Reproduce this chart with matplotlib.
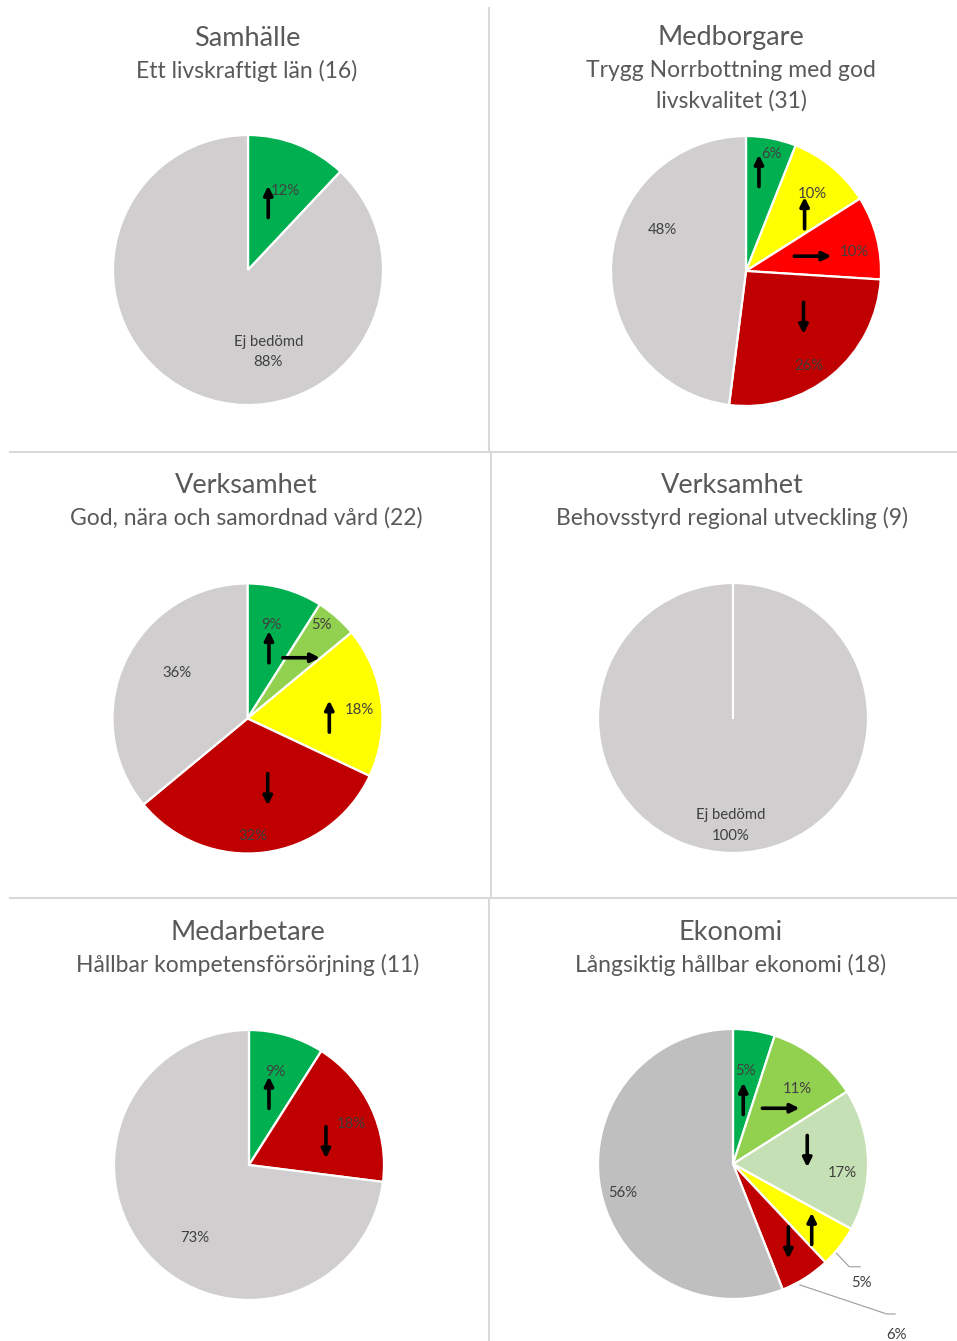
import matplotlib
matplotlib.use("Agg")
import matplotlib.pyplot as plt
from matplotlib.lines import Line2D

plt.rcParams['font.family'] = ['Lato', 'DejaVu Sans']

# ---------------- DATA ----------------
titles = ["Samhälle", "Medborgare", "Verksamhet", "Verksamhet", "Medarbetare", "Ekonomi"]
subtitles = ["Ett livskraftigt län (16)",
             "Trygg Norrbottning med god\nlivskvalitet (31)",
             "God, nära och samordnad vård (22)",
             "Behovsstyrd regional utveckling (9)",
             "Hållbar kompetensförsörjning (11)",
             "Långsiktig hållbar ekonomi (18)"]

samhalle_values = [12, 88]
medborgare_values = [6, 10, 10, 26, 48]
vard_values = [9, 5, 18, 32, 36]
utveckling_values = [100]
medarbetare_values = [9, 18, 73]
ekonomi_values = [5, 11, 17, 5, 6, 56]

# status category of each slice
samhalle_status = ["green", "grey"]
medborgare_status = ["green", "yellow", "red", "darkred", "grey"]
vard_status = ["green", "lightgreen", "yellow", "darkred", "grey"]
utveckling_status = ["grey"]
medarbetare_status = ["green", "darkred", "grey"]
ekonomi_status = ["green", "lightgreen", "palegreen", "yellow", "darkred", "grey2"]

# trend arrow of each slice
samhalle_trend = ["up", None]
medborgare_trend = ["up", "up", "right", "down", None]
vard_trend = ["up", "right", "up", "down", None]
utveckling_trend = [None]
medarbetare_trend = ["up", "down", None]
ekonomi_trend = ["up", "right", "down", "up", "down", None]

# label prefix for the "not assessed" slice when named
samhalle_names = ["", "Ej bedömd"]
utveckling_names = ["Ej bedömd"]

# ---------------- STYLE / LAYOUT ----------------
COLORS = {"green": "#00B050", "lightgreen": "#92D050", "palegreen": "#C5E0B4",
          "yellow": "#FFFF00", "red": "#FF0000", "darkred": "#C00000",
          "grey": "#D0CECE", "grey2": "#BFBFBF"}
W, H = 957, 1341
R = 135

# pie centres (px) and title positions (px)
centers = [(248, 270), (746, 271), (247.5, 718.5), (733, 718), (249, 1165), (733, 1164)]
title_y = [39, 38, 486, 486, 932, 932]
title_x = [247, 731, 246, 732, 248, 731]
sub_y = [71, 86, 518, 518, 965, 965]

# label offsets (pie-radius units) per slice
label_pos = [
    [(0.274, 0.587), (0.15, -0.607)],
    [(0.19, 0.865), (0.495, 0.571), (0.80, 0.142), (0.466, -0.704), (-0.62, 0.30)],
    [(0.179, 0.693), (0.55, 0.693), (0.828, 0.063), (0.043, -0.868), (-0.52, 0.335)],
    [(-0.015, -0.796)],
    [(0.193, 0.691), (0.76, 0.304), (-0.40, -0.543)],
    [(0.096, 0.691), (0.476, 0.553), (0.81, -0.064), (0.953, -0.884), (1.213, -1.267), (-0.815, -0.213)],
]
# arrow centres (pie-radius units) per slice
arrow_pos = [
    [(0.15, 0.506), None],
    [(0.096, 0.743), (0.434, 0.43), (0.495, 0.11), (0.426, -0.349), None],
    [(0.159, 0.53), (0.399, 0.45), (0.606, 0.016), (0.15, -0.526), None],
    [None],
    [(0.148, 0.537), (0.57, 0.167), None],
    [(0.076, 0.484), (0.355, 0.413), (0.55, 0.094), (0.583, -0.479), (0.41, -0.584), None],
]
# leader lines (Ekonomi small slices)
leaders = {5: [[(0.766, -0.661), (0.861, -0.761), (0.941, -0.761)],
               [(0.496, -0.896), (1.139, -1.111), (1.2, -1.111)]]}

values_all = [samhalle_values, medborgare_values, vard_values, utveckling_values,
              medarbetare_values, ekonomi_values]
status_all = [samhalle_status, medborgare_status, vard_status, utveckling_status,
              medarbetare_status, ekonomi_status]
trend_all = [samhalle_trend, medborgare_trend, vard_trend, utveckling_trend,
             medarbetare_trend, ekonomi_trend]
names_all = [samhalle_names, None, None, utveckling_names, None, None]

TITLE_C = "#595959"
LABEL_C = "#404040"

fig = plt.figure(figsize=(W / 100, H / 100), dpi=100)
fig.patch.set_facecolor("white")

# separator lines
sep_c = "#D9D9D9"
fig.add_artist(Line2D([10 / W, 1], [1 - 452 / H, 1 - 452 / H], color=sep_c, lw=1.5))
fig.add_artist(Line2D([10 / W, 1], [1 - 898 / H, 1 - 898 / H], color=sep_c, lw=1.5))
fig.add_artist(Line2D([489 / W, 489 / W], [1 - 8 / H, 1 - 451 / H], color=sep_c, lw=1.5))
fig.add_artist(Line2D([491 / W, 491 / W], [1 - 453 / H, 1 - 897 / H], color=sep_c, lw=1.5))
fig.add_artist(Line2D([489 / W, 489 / W], [1 - 899 / H, 0], color=sep_c, lw=1.5))

ARROW_V = 0.235
ARROW_H = 0.275
dirs = {"up": (0, 1), "down": (0, -1), "right": (1, 0)}

for i in range(6):
    cx, cy = centers[i]
    ax = fig.add_axes([(cx - R) / W, 1 - (cy + R) / H, 2 * R / W, 2 * R / H])
    vals = values_all[i]
    cols = [COLORS[s] for s in status_all[i]]
    ax.pie(vals, colors=cols, startangle=90, counterclock=False, radius=1,
           wedgeprops=dict(edgecolor="white", linewidth=1.6))
    ax.set_xlim(-1, 1)
    ax.set_ylim(-1, 1)
    ax.set_aspect("equal")
    ax.axis("off")
    if len(vals) == 1:
        ax.plot([0, 0], [0, 1], color="white", lw=1.6)
    # labels
    for j, v in enumerate(vals):
        txt = f"{v}%"
        if names_all[i] is not None and names_all[i][j]:
            txt = names_all[i][j] + "\n" + txt
        lx, ly = label_pos[i][j]
        ax.text(lx, ly, txt, ha="center", va="center", fontsize=10.7,
                color=LABEL_C, linespacing=1.6, clip_on=False)
    # arrows
    for j, t in enumerate(trend_all[i]):
        if t is None:
            continue
        ax_, ay_ = arrow_pos[i][j]
        dx, dy = dirs[t]
        L = ARROW_V if dy != 0 else ARROW_H
        ax.annotate("", xy=(ax_ + dx * L / 2, ay_ + dy * L / 2),
                    xytext=(ax_ - dx * L / 2, ay_ - dy * L / 2),
                    arrowprops=dict(arrowstyle="-|>", color="black", lw=2.6,
                                    mutation_scale=13, shrinkA=0, shrinkB=0))
    if i in leaders:
        for pts in leaders[i]:
            xs = [p[0] for p in pts]
            ys = [p[1] for p in pts]
            ax.plot(xs, ys, color="#A6A6A6", lw=0.9, clip_on=False)
    # titles
    fig.text(title_x[i] / W, 1 - title_y[i] / H, titles[i], ha="center", va="center",
             fontsize=19.5, color=TITLE_C)
    fig.text(title_x[i] / W, 1 - sub_y[i] / H, subtitles[i], ha="center", va="center",
             fontsize=16.5, color=TITLE_C, linespacing=1.5)

fig.savefig("out.png", dpi=100, facecolor="white")
